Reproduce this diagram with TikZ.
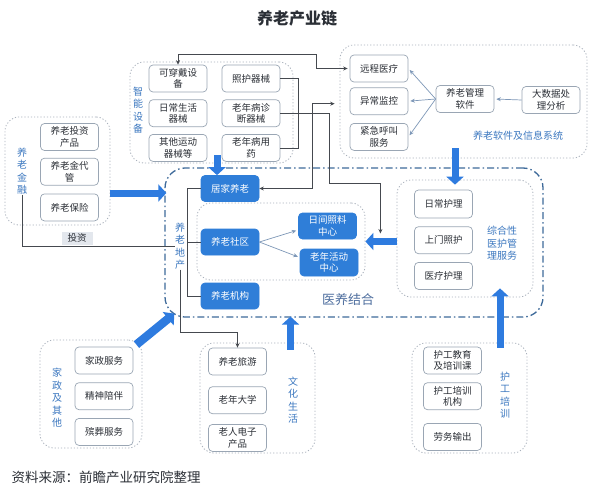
\documentclass[tikz,border=0pt]{standalone}
\usepackage{fontspec}
\setmainfont{Noto Sans CJK SC}
\usepackage{xcolor}
\usetikzlibrary{arrows.meta,positioning,fit,calc,backgrounds}
\definecolor{ink}{HTML}{2B2F36}
\definecolor{deepblue}{HTML}{2F7ED8}
\definecolor{fatblue}{HTML}{2E7BDF}
\definecolor{tagblue}{HTML}{3C78C0}
\definecolor{boxline}{HTML}{9AA6B4}
\definecolor{groupline}{HTML}{A9B1BC}
\definecolor{zoneline}{HTML}{3E6A9A}
\definecolor{zonetext}{HTML}{4F6F9F}
\definecolor{wire}{HTML}{45494F}
\definecolor{softwire}{HTML}{7E98B8}
\definecolor{tagfill}{HTML}{E3E7ED}
\newcommand{\boxfont}{\fontsize{9.5}{11.5}\selectfont}
\newcommand{\sidefont}{\fontsize{10}{12.5}\selectfont}
\tikzset{
  x=1pt, y=-1pt,
  item/.style={
    draw=boxline,
    fill=white,
    rounded corners=4pt,
    line width=0.7pt,
    minimum width=58pt,
    minimum height=27pt,
    inner sep=1pt,
    align=center,
    font=\boxfont,
    text=ink
  },
  keyitem/.style={
    item,
    draw=deepblue,
    fill=deepblue,
    text=white
  },
  group/.style={
    draw=groupline,
    dash pattern=on 1.2pt off 2pt,
    line width=0.8pt,
    rounded corners=14pt
  },
  zone/.style={
    draw=zoneline,
    dash pattern=on 7pt off 3pt on 1.5pt off 3pt,
    line width=1.3pt,
    rounded corners=20pt
  },
  side/.style={
    text=tagblue,
    font=\sidefont,
    align=center,
    inner sep=0pt
  },
  link/.style={
    draw=wire,
    line width=0.7pt
  },
  linkarrow/.style={
    link,
    -{Stealth[length=4.5pt,width=4pt]}
  },
  twoway/.style={
    link,
    {Stealth[length=4.5pt,width=4pt]}-{Stealth[length=4.5pt,width=4pt]}
  },
  softarrow/.style={
    draw=softwire,
    line width=0.7pt,
    -{Stealth[length=4.5pt,width=4pt]},
    shorten >=2pt
  },
  fat/.style={
    draw=fatblue,
    line width=7pt,
    -{Triangle[length=8pt,width=17pt]}
  },
  tag/.style={
    fill=tagfill,
    font=\boxfont,
    text=ink,
    inner sep=2pt,
    minimum width=31pt
  }
}

\begin{document}
\begin{tikzpicture}
\fill[white] (0,0) rectangle (593,500);
\useasboundingbox (0,0) rectangle (593,500);

\node[font=\fontsize{16}{19}\selectfont\bfseries, text=ink] (title) at (297,18) {养老产业链};

% Frames first, the boxes sit on top of them.
\node[zone, minimum width=378pt, minimum height=149pt] (zone) at (354,242.5) {};
\node[group, minimum width=163pt, minimum height=101pt] (smart) at (211.5,112.5) {};
\node[group, minimum width=247pt, minimum height=113pt] (soft) at (463.5,101.5) {};
\node[group, minimum width=105pt, minimum height=108pt] (fin) at (57.5,171) {};
\node[group, minimum width=168pt, minimum height=77pt] (inner) at (281,241.5) {};
\node[group, minimum width=136pt, minimum height=117pt] (care) at (465,238.5) {};
\node[group, minimum width=102pt, minimum height=108pt] (house) at (91,394) {};
\node[group, minimum width=115pt, minimum height=110pt] (culture) at (257.5,398) {};
\node[group, minimum width=115pt, minimum height=110pt] (nurse) at (469.5,398) {};

% Smart devices
\node[item] (wear) at (178,78.5) {可穿戴设\\备};
\node[item, below=7pt of wear] (daily) {日常生活\\器械};
\node[item, below=7pt of daily] (sport) {其他运动\\器械等};
\node[item] (aid) at (251,78.5) {照护器械};
\node[item, below=7pt of aid] (diag) {老年病诊\\断器械};
\node[item, below=7pt of diag] (drug) {老年病用\\药};
\node[side] (smartlab) at (138,110) {智\\能\\设\\备};

% Software and information systems
\node[item] (remote) at (379,68.5) {远程医疗};
\node[item, below=5pt of remote] (monitor) {异常监控};
\node[item, below=8pt of monitor] (sos) {紧急呼叫\\服务};
\node[item] (mgmt) at (465,99) {养老管理\\软件};
\node[item] (bigdata) at (551,100) {大数据处\\理分析};
\node[side] (softlab) at (518,136) {养老软件及信息系统};

% Finance
\node[item] (invest) at (69.5,137) {养老投资\\产品};
\node[item, below=7pt of invest] (custody) {养老金代\\管};
\node[item, below=8pt of custody] (insure) {养老保险};
\node[side] (finlab) at (22,171) {养\\老\\金\\融};

% Medical and elderly care zone
\node[keyitem, minimum height=26pt] (home) at (230,188.5) {居家养老};
\node[keyitem, minimum height=26pt] (community) at (230,242) {养老社区};
\node[keyitem, minimum height=26pt] (institution) at (230,296) {养老机构};
\node[side] (estatelab) at (180,246) {养\\老\\地\\产};
\node[keyitem, minimum height=26pt] (dayctr) at (327.5,226) {日间照料\\中心};
\node[keyitem] (actctr) at (329,262.5) {老年活动\\中心};
\node[font=\fontsize{13}{15}\selectfont, text=zonetext] (zonelab) at (348,300) {医养结合};

\node[item, minimum height=28pt] (routine) at (443.5,204) {日常护理};
\node[item, below=8pt of routine] (visit) {上门照护};
\node[item, below=8pt of visit] (medical) {医疗护理};
\node[side] (carelab) at (502,243.5) {综合性\\医护管\\理服务};

% Bottom row
\node[item] (housework) at (104,360.5) {家政服务};
\node[item, below=8pt of housework] (company) {精神陪伴};
\node[item, below=8pt of company] (funeral) {殡葬服务};
\node[side] (houselab) at (57,398) {家\\政\\及\\其\\他};

\node[item] (travel) at (237.5,361.5) {养老旅游};
\node[item, below=11pt of travel] (college) {老年大学};
\node[item, below=10pt of college] (gadget) {老人电子\\产品};
\node[side] (culturelab) at (293,400) {文\\化\\生\\活};

\node[item] (course) at (452.5,360.5) {护工教育\\及培训课};
\node[item, below=8pt of course] (school) {护工培训\\机构};
\node[item, below=13pt of school] (labour) {劳务输出};
\node[side] (nurselab) at (505,395) {护\\工\\培\\训};

\node[anchor=west, font=\fontsize{13.5}{16}\selectfont, text=ink] (source) at (8,477) {资料来源：前瞻产业研究院整理};

% Thin connectors
\draw[link] (aid.east) -| ($(diag.east)+(18,0)$) |- (drug.east);
\draw[linkarrow] (diag.east) -| ($(diag.east)+(49,70.5)$) -| ($(inner.east)+(15,-8)$);
\draw[twoway] (wear.north) |- ($(remote.west)+(-33,-14.5)$) |- ([xshift=-2pt]remote.west);
\draw[twoway] (home.east) -| ($(monitor.west)+(-37,2.5)$) -- ($(monitor.west)+(-15,2.5)$);
\draw[link] (finlab.south) |- node[tag, pos=0.68, anchor=south, yshift=1pt] (investtag) {投资} (estatelab.west);
\draw[link] (home.west) -- ++(-13,0) |- (institution.west);
\draw[link] (community.west) -- ++(-13,0);
\draw[linkarrow] (estatelab.south) |- ($(travel.north)+(0,-15)$) -- (travel.north);

\draw[softarrow] (bigdata.west) -- (mgmt.east);
\draw[softarrow] (mgmt.west) -- (remote.east);
\draw[softarrow] (mgmt.west) -- (monitor.east);
\draw[softarrow] (mgmt.west) -- (sos.east);
\draw[softarrow] (community.east) -- ([yshift=-4pt]dayctr.west);
\draw[softarrow] (community.east) -- ([yshift=5pt]actctr.west);

% Heavy arrows into the zone
\draw[fat] ($(fin.east)+(0,22)$) -- ($(fin.east -| zone.west)+(2,22)$);
\draw[fat] ($(home.north |- smart.south)+(-13,-8)$) -- ($(home.north)+(-13,0)$);
\draw[fat] ($(soft.south)+(-8.5,-10)$) -- ($(routine.north)+(11.5,-5)$);
\draw[fat] (care.west |- inner.east) -- (inner.east);
\draw[fat] ($(culture.north)+(33,7)$) -- ($(culture.north)+(33,-26)$);
\draw[fat] ($(nurse.north)+(30.5,5)$) -- ($(care.south)+(35,-9)$);
\draw[fat, line width=8.5pt] ($(house.north east)+(-6,5)$) -- ($(zone.south west)+(10,-4)$);

\end{tikzpicture}
\end{document}
